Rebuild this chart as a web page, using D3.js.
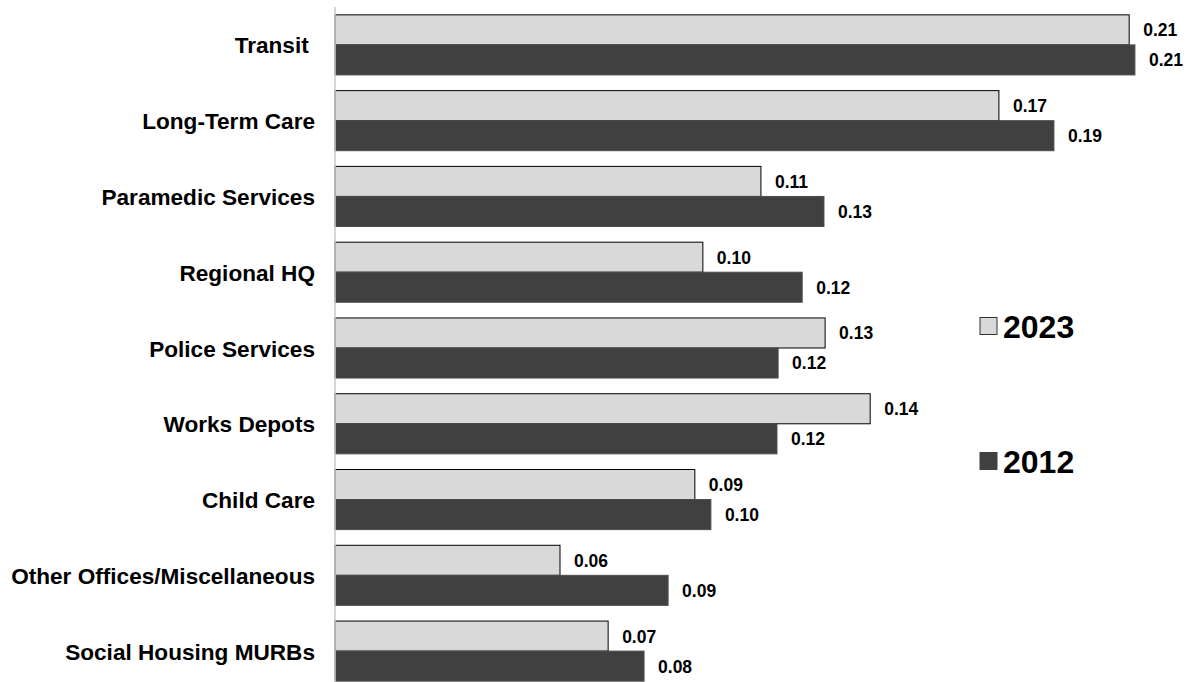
<!DOCTYPE html>
<html>
<head>
<meta charset="utf-8">
<script src="https://cdn.jsdelivr.net/npm/d3@7"></script>
<style>
  body { margin: 0; background: #fff; }
  text { font-family: "Liberation Sans", Arial, sans-serif; font-weight: bold; }
</style>
</head>
<body>
<div id="chart"></div>
<script>
var w = 1191;
var h = 682;

var categories = [
    "Transit ",
    "Long-Term Care",
    "Paramedic Services",
    "Regional HQ",
    "Police Services",
    "Works Depots",
    "Child Care",
    "Other Offices/Miscellaneous",
    "Social Housing MURBs"
];
var values2023 = [0.2079, 0.1738, 0.1115, 0.0963, 0.1283, 0.1401, 0.0942, 0.0589, 0.0715];
var values2012 = [0.2094, 0.1882, 0.1280, 0.1223, 0.1160, 0.1157, 0.0984, 0.0872, 0.0809];
var seriesNames = ["2023", "2012"];

var colors = { "2023": "#d9d9d9", "2012": "#404040" };
var strokes = { "2023": "#000", "2012": "#4d4d4d" };

var x0 = 335;
var x = d3.scaleLinear()
    .domain([0, 0.22])
    .range([x0, x0 + 0.22 * 3820]);

var y = d3.scaleBand()
    .domain(categories)
    .range([7, 689])
    .paddingInner(0.207)
    .paddingOuter(0.1035);

var ySub = d3.scaleBand()
    .domain(seriesNames)
    .range([0, y.bandwidth()]);

var svg = d3.select("#chart")
    .append("svg")
    .attr("width", w)
    .attr("height", h);

var rows = categories.map(function(c, i) {
    return { cat: c, vals: [
        { s: "2023", v: values2023[i] },
        { s: "2012", v: values2012[i] }
    ]};
});

var groups = svg.selectAll("g.row")
    .data(rows)
    .enter()
    .append("g")
    .attr("class", "row")
    .attr("transform", function(d) { return "translate(0," + y(d.cat) + ")"; });

groups.selectAll("rect")
    .data(function(d) { return d.vals; })
    .enter()
    .append("rect")
    .attr("x", x(0))
    .attr("y", function(d) { return ySub(d.s); })
    .attr("width", function(d) { return x(d.v) - x(0); })
    .attr("height", ySub.bandwidth())
    .style("fill", function(d) { return colors[d.s]; })
    .style("stroke", function(d) { return strokes[d.s]; })
    .style("stroke-width", 1);

groups.selectAll("text.val")
    .data(function(d) { return d.vals; })
    .enter()
    .append("text")
    .attr("class", "val")
    .attr("x", function(d) { return x(d.v) + 14; })
    .attr("y", function(d) { return ySub(d.s) + ySub.bandwidth() / 2; })
    .attr("dy", "0.37em")
    .style("font-size", "17.5px")
    .text(function(d) { return d3.format(".2f")(d.v); });

// category axis
var yAxis = svg.append("g")
    .attr("transform", "translate(" + x0 + ",0)")
    .call(d3.axisLeft(y).tickSize(0).tickPadding(20));

yAxis.select(".domain")
    .attr("d", "M0,7V682")
    .style("stroke", "#c8c8c8")
    .style("stroke-width", 1.5);

yAxis.selectAll("text")
    .attr("dy", "0.38em")
    .style("font-size", "22.6px")
    .style("fill", "#000")
    .style("white-space", "pre")
    .attr("xml:space", "preserve");

// legend
var legendY = [326, 461];
var legend = svg.selectAll("g.legend")
    .data(seriesNames)
    .enter()
    .append("g")
    .attr("class", "legend")
    .attr("transform", function(d, i) { return "translate(980," + legendY[i] + ")"; });

legend.append("rect")
    .attr("x", 0)
    .attr("y", -8.5)
    .attr("width", 17)
    .attr("height", 17)
    .style("fill", function(d) { return colors[d]; })
    .style("stroke", function(d) { return d === "2023" ? "#333" : colors[d]; })
    .style("stroke-width", 1);

legend.append("text")
    .attr("x", 23)
    .attr("y", 0)
    .attr("dy", "0.36em")
    .style("font-size", "32px")
    .text(function(d) { return d; });
</script>
</body>
</html>
